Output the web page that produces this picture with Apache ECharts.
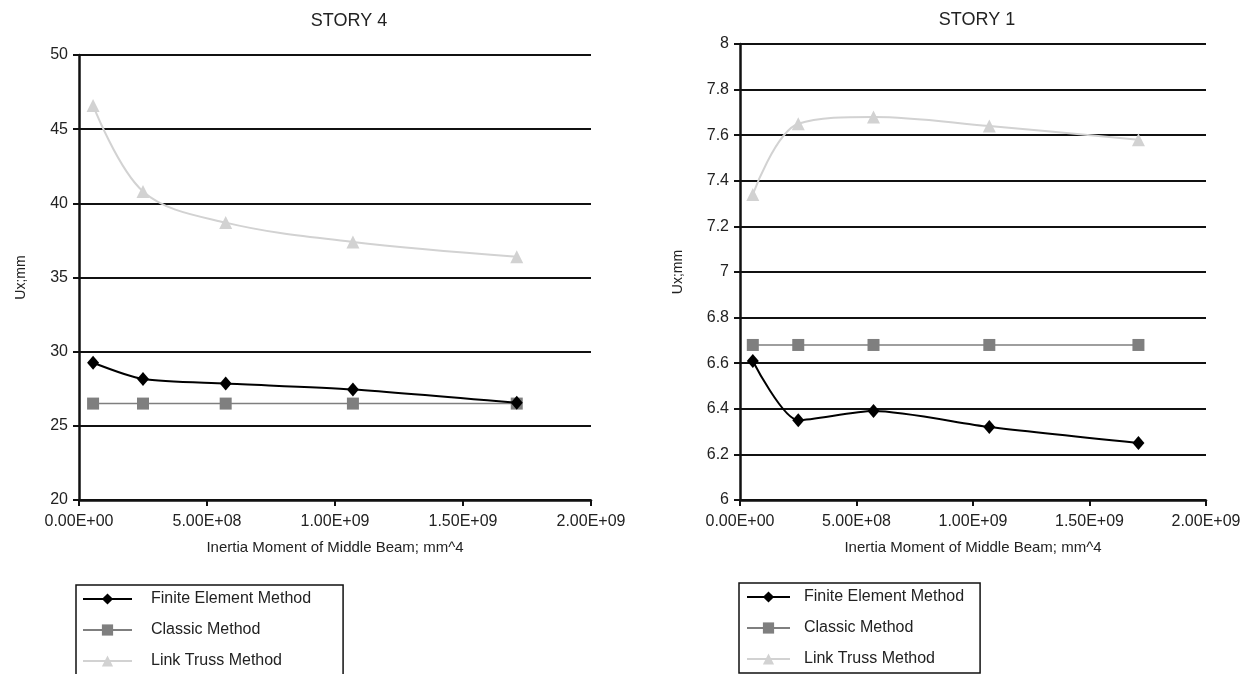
<!DOCTYPE html>
<html>
<head>
<meta charset="utf-8">
<script src="https://cdn.jsdelivr.net/npm/echarts@6/dist/echarts.min.js"></script>
<style>
  html, body { margin: 0; padding: 0; background: #fff; }
  #chart { width: 1250px; height: 674px; }
</style>
</head>
<body>
<div id="chart"></div>
<script>
// Moment of inertia of the middle beam (mm^4), shared by both stories
const inertiaValues = [5.5e7, 2.5e8, 5.73e8, 1.07e9, 1.71e9];

// Story 4 lateral displacement Ux (mm)
const story4Fem     = [29.25, 28.15, 27.85, 27.45, 26.55];
const story4Classic = [26.5, 26.5, 26.5, 26.5, 26.5];
const story4Link    = [46.6, 40.8, 38.7, 37.4, 36.4];

// Story 1 lateral displacement Ux (mm)
const story1Fem     = [6.61, 6.35, 6.39, 6.32, 6.25];
const story1Classic = [6.68, 6.68, 6.68, 6.68, 6.68];
const story1Link    = [7.34, 7.65, 7.68, 7.64, 7.58];

const methodNames = ['Finite Element Method', 'Classic Method', 'Link Truss Method'];
const storyTitles = ['STORY 4', 'STORY 1'];
const xAxisTitle = 'Inertia Moment of Middle Beam; mm^4';
const yAxisTitle = 'Ux;mm';

const FONT = '"Liberation Sans", Arial, sans-serif';
const TEXT = '#222222';

function sci(v) {
  if (v === 0) return '0.00E+00';
  const e = Math.floor(Math.log10(Math.abs(v)) + 1e-9);
  const m = v / Math.pow(10, e);
  return m.toFixed(2) + 'E' + (e < 0 ? '-' : '+') + String(Math.abs(e)).padStart(2, '0');
}

function pairs(ys) { return inertiaValues.map((x, i) => [x, ys[i]]); }

const styles = [
  { color: '#000000', symbol: 'diamond', symbolSize: [12, 14], width: 2, smooth: 0.25 },
  { color: '#7f7f7f', symbol: 'rect', symbolSize: 12, width: 1.5, smooth: 0.25 },
  { color: '#d2d2d2', symbol: 'triangle', symbolSize: 13, width: 2, smooth: 0.35 }
];

function makeSeries(values, axisIndex) {
  return values.map((ys, k) => ({
    name: methodNames[k],
    type: 'line',
    xAxisIndex: axisIndex,
    yAxisIndex: axisIndex,
    data: pairs(ys),
    smooth: styles[k].smooth,
    symbol: styles[k].symbol,
    symbolSize: styles[k].symbolSize,
    showAllSymbol: true,
    itemStyle: { color: styles[k].color },
    lineStyle: { color: styles[k].color, width: styles[k].width },
    emphasis: { disabled: true },
    animation: false,
    z: 3 - k
  }));
}

function makeXAxis(gridIndex) {
  return {
    type: 'value', gridIndex, min: 0, max: 2e9, interval: 5e8,
    name: xAxisTitle, nameLocation: 'middle', nameGap: 40,
    nameTextStyle: { fontFamily: FONT, fontSize: 15, color: TEXT },
    axisLine: { show: true, onZero: false, lineStyle: { color: '#111', width: 2.5 } },
    axisTick: { show: true, length: 6, lineStyle: { color: '#111', width: 2 } },
    axisLabel: { formatter: sci, fontFamily: FONT, fontSize: 16, color: TEXT, margin: 14 },
    splitLine: { show: false }
  };
}

function makeYAxis(gridIndex, min, max, interval, nameGap) {
  return {
    type: 'value', gridIndex, min, max, interval,
    name: yAxisTitle, nameLocation: 'middle', nameGap, nameRotate: 90,
    nameTextStyle: { fontFamily: FONT, fontSize: 14, color: TEXT },
    axisLine: { show: true, lineStyle: { color: '#111', width: 2.5 } },
    axisTick: { show: true, length: 6, lineStyle: { color: '#111', width: 2 } },
    axisLabel: {
      formatter: v => String(+v.toFixed(1)),
      fontFamily: FONT, fontSize: 16, color: TEXT, margin: 11
    },
    splitLine: { show: true, lineStyle: { color: '#111', width: 2 } }
  };
}

function makeLegend(left, top, itemWidth, itemGap, padding, textGap) {
  return {
    orient: 'vertical', left, top, height: 110,
    data: methodNames,
    itemWidth, itemHeight: 14, itemGap,
    padding,
    borderColor: '#111', borderWidth: 1.5,
    selectedMode: false,
    textStyle: { fontFamily: FONT, fontSize: 16, color: TEXT, padding: [0, 0, 0, textGap] }
  };
}

const chart = echarts.init(document.getElementById('chart'), null, { renderer: 'canvas' });

chart.setOption({
  backgroundColor: '#ffffff',
  animation: false,
  title: [
    { text: storyTitles[0], left: 344, top: 7, textAlign: 'center',
      textStyle: { fontFamily: FONT, fontSize: 18, fontWeight: 'normal', color: TEXT } },
    { text: storyTitles[1], left: 972, top: 6, textAlign: 'center',
      textStyle: { fontFamily: FONT, fontSize: 18, fontWeight: 'normal', color: TEXT } }
  ],
  grid: [
    { left: 79, right: 659, top: 55, bottom: 174 },
    { left: 740, right: 44, top: 44, bottom: 174 }
  ],
  xAxis: [makeXAxis(0), makeXAxis(1)],
  yAxis: [makeYAxis(0, 20, 50, 5, 51), makeYAxis(1, 6, 8, 0.2, 55)],
  legend: [
    makeLegend(76, 585, 49, 15, [6, 32, 6, 6], 14),
    makeLegend(739, 583, 43, 15, [6, 16, 6, 7], 9)
  ],
  series: [
    ...makeSeries([story4Fem, story4Classic, story4Link], 0),
    ...makeSeries([story1Fem, story1Classic, story1Link], 1)
  ]
});
</script>
</body>
</html>
